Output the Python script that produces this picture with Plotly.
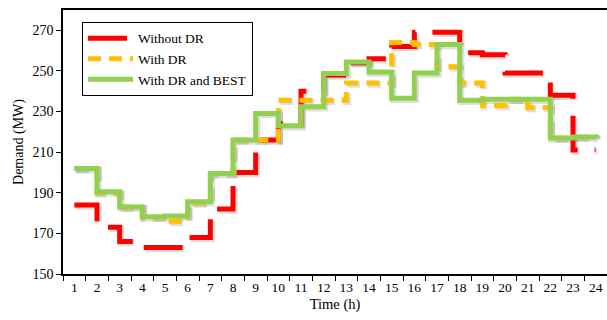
import plotly.graph_objects as go

hours = list(range(1, 25))
without_dr = [184, 173, 166, 163, 163, 168, 182, 200, 216, 224, 240, 248,
              254, 256, 262, 269, 269, 259, 258, 249, 249, 238, 211, 211]
with_dr = [202, 190, 183, 178, 176, 185, 199.5, 216, 216, 235.6, 235.6, 235.6,
           244, 244, 264, 263, 252, 244, 233, 236, 232, 217, 217.5, 217]
with_dr_best = [202, 190.5, 183, 178.2, 178.5, 185.6, 199.5, 216, 229, 223, 232.3, 248.7,
                254.4, 249.5, 236.5, 249, 263, 235.6, 236, 236, 236, 217, 217.5, 217]
y_ticks = [150, 170, 190, 210, 230, 250, 270]

FONT = "Liberation Serif"
X_RANGE = [0.5, 24.5]
Y_RANGE = [150, 280]
# drop-shadow axes (drawn underneath): same scales, shifted ~1.5 px right/down
SX = 1.5 * (X_RANGE[1] - X_RANGE[0]) / 544
SY = 1.5 * (Y_RANGE[1] - Y_RANGE[0]) / 264

series = [
    ("Without DR", without_dr, "#FF0000", "39px,17px"),
    ("With DR", with_dr, "#FFC000", "13px,8px"),
    ("With DR and BEST", with_dr_best, "#92D050", "solid"),
]

fig = go.Figure()
for name, vals, color, dash in series:
    fig.add_trace(go.Scatter(x=hours, y=vals, mode="lines", showlegend=False, hoverinfo="skip",
                             xaxis="x", yaxis="y",
                             line=dict(color="rgba(0,0,0,0.13)", width=6.5, shape="hv", dash=dash)))
for name, vals, color, dash in series:
    fig.add_trace(go.Scatter(x=hours, y=vals, mode="lines", name=name, xaxis="x2", yaxis="y2",
                             line=dict(color=color, width=5, shape="hv", dash=dash)))

fig.update_layout(
    width=607, height=320,
    margin=dict(l=63, r=0, t=10, b=46),
    plot_bgcolor="white", paper_bgcolor="white",
    font=dict(family=FONT, size=12, color="black"),
    showlegend=True,
    legend=dict(x=0.035, y=0.955, xanchor="left", yanchor="top",
                bgcolor="white", bordercolor="black", borderwidth=1,
                font=dict(family=FONT, size=13.5), tracegroupgap=0, itemwidth=45),
    xaxis=dict(range=[X_RANGE[0] - SX, X_RANGE[1] - SX], visible=False),
    yaxis=dict(range=[Y_RANGE[0] + SY, Y_RANGE[1] + SY], visible=False),
    xaxis2=dict(overlaying="x", anchor="y2", side="bottom",
                range=X_RANGE, tickvals=hours, ticktext=[str(h) for h in hours],
                ticks="", showgrid=False, zeroline=False,
                showline=True, linecolor="black", linewidth=1.5, mirror=True,
                minor=dict(ticks="outside", ticklen=5, tickcolor="black", tick0=0.5, dtick=1, showgrid=False),
                tickfont=dict(family=FONT, size=13.5),
                title=dict(text="Time (h)", font=dict(family=FONT, size=14.5), standoff=5)),
    yaxis2=dict(overlaying="y", anchor="x2", side="left",
                range=Y_RANGE, tickvals=y_ticks, ticks="outside", ticklen=5, tickcolor="black",
                showgrid=False, zeroline=False, showline=True, linecolor="black", linewidth=1.5,
                tickfont=dict(family=FONT, size=14),
                title=dict(text="Demand (MW)", font=dict(family=FONT, size=14), standoff=6)),
)

fig.write_html("out.html")
